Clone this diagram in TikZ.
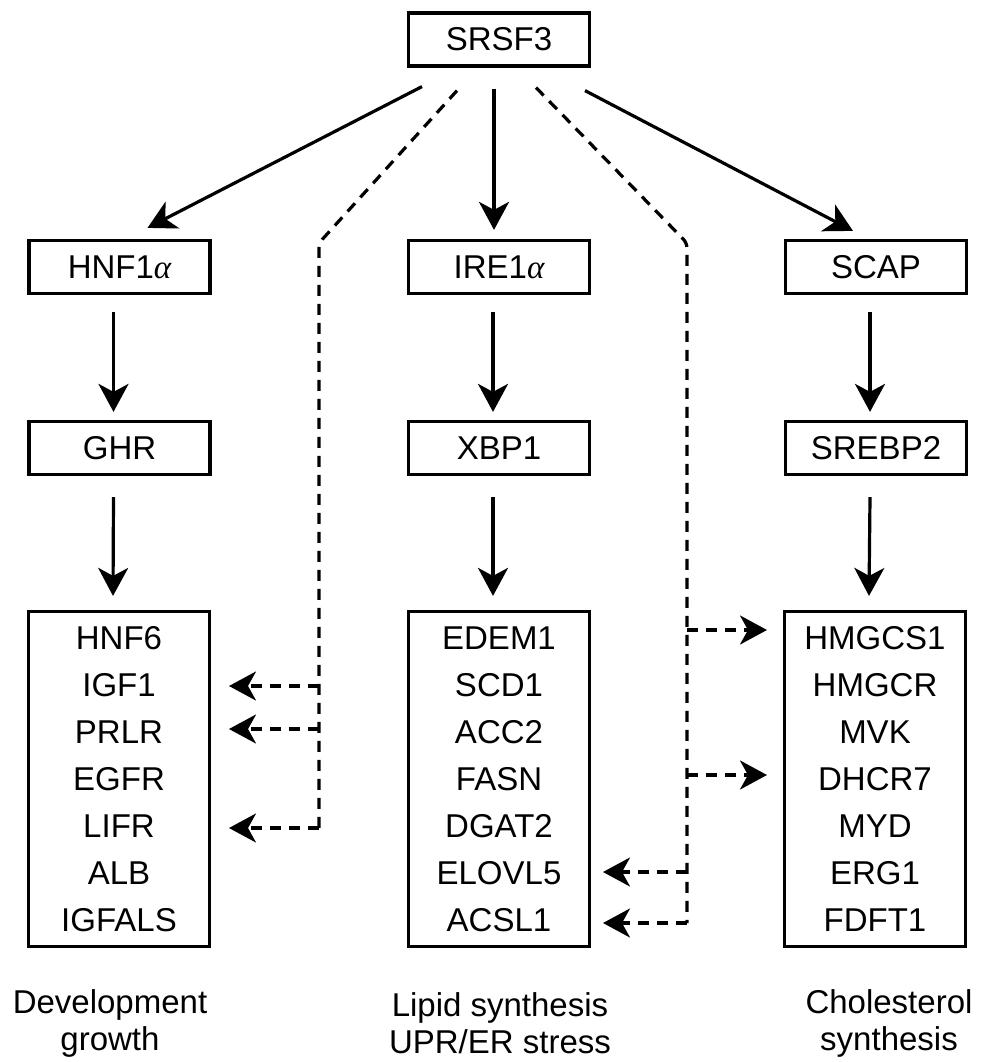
\documentclass[tikz,border=0pt]{standalone}
\usepackage{fontspec}
\setmainfont{Liberation Sans}
\newfontfamily\greekfont{Liberation Serif}
\newcommand{\alphachar}{{\greekfont\itshape α}}
\usetikzlibrary{positioning,arrows.meta,calc}

\tikzset{
  genebox/.style={draw, line width=3.2pt, minimum width=181pt, minimum height=53pt,
    inner sep=0pt, font=\fontsize{33}{47}\selectfont},
  listbox/.style={draw, line width=3.2pt, minimum width=181pt, minimum height=335pt,
    inner sep=0pt, align=center, font=\fontsize{33}{47}\selectfont},
  tag/.style={inner sep=0pt, align=center, font=\fontsize{33}{37}\selectfont},
  act/.style={line width=3.2pt, -{Stealth[length=28pt,width=30pt,inset=8pt]}},
  weak/.style={line width=3.2pt, dash pattern=on 11pt off 8pt},
  weakarrow/.style={weak, -{Stealth[length=27pt,width=29pt,inset=8pt]}}
}

\begin{document}
\begin{tikzpicture}[x=1pt, y=-1pt]
  % frame of the figure, 980 x 1062
  \useasboundingbox (0,0) rectangle (980,1062);

  % top regulator
  \node[genebox] (srsf3) at (499,39.5) {SRSF3};

  % first and second tier
  \node[genebox] (hnf)   at (119.5,267) {HNF1\alphachar};
  \node[genebox] (ire)   at (499,267)   {IRE1\alphachar};
  \node[genebox] (scap)  at (876,267)   {SCAP};
  \node[genebox] (ghr)   at (119.5,448) {GHR};
  \node[genebox] (xbp)   at (499,448)   {XBP1};
  \node[genebox] (srebp) at (876,448)   {SREBP2};

  % target gene lists
  \node[listbox] (listL) at (119,779) {HNF6\\IGF1\\PRLR\\EGFR\\LIFR\\ALB\\IGFALS};
  \node[listbox] (listM) at (499,779) {EDEM1\\SCD1\\ACC2\\FASN\\DGAT2\\ELOVL5\\ACSL1};
  \node[listbox] (listR) at (875,779) {HMGCS1\\HMGCR\\MVK\\DHCR7\\MYD\\ERG1\\FDFT1};

  % process labels
  \node[tag] (devtag)  at (110,1023) {Development\\growth};
  \node[tag] (liptag)  at (500,1023) {Lipid synthesis\\UPR/ER stress};
  \node[tag] (choltag) at (889,1023) {Cholesterol\\synthesis};

  % direct regulation
  \draw[act] ($(srsf3.south)+(-77,19)$) -- ($(hnf.north)+(28,-11)$);
  \draw[act] ($(srsf3.south)+(-5,21)$) -- ($(ire.north)+(-5,-9)$);
  \draw[act] ($(srsf3.south)+(86,23)$) -- ($(scap.north)+(-23,-8)$);

  \foreach \a/\b in {hnf/ghr, ire/xbp, scap/srebp}{
    \draw[act] ($(\a.south)+(-6,17)$) -- ($(\b.north)+(-6,-8)$);
  }
  \foreach \a/\b in {ghr/listL, xbp/listM, srebp/listR}{
    \draw[act] ($(\a.south)+(-6,21)$) -- ($(\b.north)+(-6,-14)$);
  }

  % splicing targets (dashed)
  \coordinate (lbend) at (319,243);
  \coordinate (lend)  at (319,828);
  \coordinate (rbend) at (687,243);
  \coordinate (rend)  at (687,923);

  \draw[weak, rounded corners=5pt] ($(srsf3.south)+(-42,23)$) -- (lbend) -- (lend);
  \draw[weak, rounded corners=5pt] ($(srsf3.south)+(37,20)$) -- (rbend) -- (rend);

  \foreach \y in {686,729,828}{
    \coordinate (ltip\y) at (229,\y);
    \draw[weakarrow] (319,\y) -- (ltip\y);
  }
  \foreach \y in {630,775}{
    \coordinate (rtip\y) at (767,\y);
    \draw[weakarrow] (687,\y) -- (rtip\y);
  }
  \foreach \y in {872,923}{
    \coordinate (mtip\y) at (603,\y);
    \draw[weakarrow] (687,\y) -- (mtip\y);
  }
\end{tikzpicture}
\end{document}
